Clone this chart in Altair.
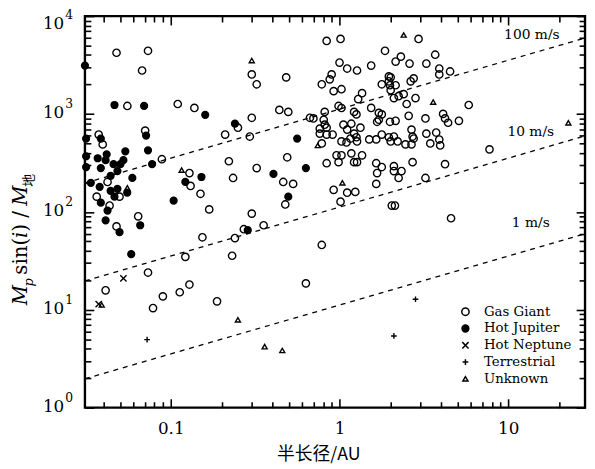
import altair as alt
import pandas as pd

# ---------------- data (semi-major axis in AU, M sin i in Earth masses) ----------------
gas_a = [0.0477, 0.0733, 0.0676, 0.0553, 0.110, 0.138, 0.0374, 0.0705, 0.0395, 0.0886,
         0.0422, 0.129, 0.131, 0.0364, 0.0497, 0.0434, 0.0641, 0.0477, 0.122, 0.0733,
         0.0411, 0.0785, 0.0898, 0.113, 0.129, 0.154, 0.240, 0.231, 0.785, 0.632,
         0.188, 0.440, 0.497, 0.302, 0.250, 0.210, 0.294, 0.302, 0.323, 0.483,
         0.221, 0.323, 0.490, 0.234, 0.464, 0.531, 0.150, 0.169, 0.302, 0.477,
         0.271, 0.355, 0.839, 1.014, 1.86, 1.0, 1.11, 1.27, 1.54, 0.898,
         0.875, 0.785, 0.923, 1.027, 1.29, 1.36, 1.54, 1.71, 1.67, 1.99,
         1.78, 2.01, 0.668, 0.70, 0.817, 0.806, 0.764, 0.839, 0.764, 0.839,
         0.910, 0.987, 1.055, 1.175, 1.11, 1.33, 1.22, 1.16, 1.26, 1.027,
         1.10, 1.27, 1.50, 1.65, 1.78, 1.96, 0.785, 0.96, 1.027, 1.175,
         1.36, 1.22, 1.27, 0.987, 0.839, 1.65, 1.78, 1.67, 0.923, 1.11,
         1.24, 1.014, 1.65, 2.04, 2.94, 2.31, 2.15, 2.60, 3.27, 3.69,
         3.90, 3.90, 4.52, 1.96, 1.96, 2.15, 2.01, 2.64, 2.75, 2.10,
         2.24, 2.40, 2.82, 2.50, 5.83, 2.57, 2.15, 3.23, 4.11, 4.22,
         4.40, 5.10, 2.67, 3.27, 3.74, 3.90, 3.45, 2.75, 2.67, 2.46,
         2.10, 2.21, 2.01, 7.74, 2.71, 4.22, 2.10, 2.10, 2.33, 2.24,
         3.23, 2.13, 4.58, 1.027, 1.22, 1.26, 1.78, 0.817, 1.71, 1.99,
         2.71, 3.95]
gas_m = [4220, 4420, 2780, 1207, 1264, 1152, 616, 676, 489, 345,
         202, 249, 184, 143, 143, 116, 90, 71, 34.7, 24,
         15.8, 10.4, 13.7, 15.1, 18.1, 55, 54, 35.6, 45.9, 18.6,
         12.2, 1100, 1050, 914, 724, 616, 588, 2535, 2010, 2365,
         329, 280, 361, 222, 202, 193, 153, 106, 96, 119,
         66.5, 73, 5570, 5840, 4420, 3350, 2910, 2780, 3120, 2535,
         2256, 2010, 1710, 1790, 1420, 1630, 1152, 1026, 832, 1964,
         2010, 2365, 914, 900, 1050, 873, 708, 724, 630, 616,
         616, 1207, 777, 795, 692, 724, 630, 561, 578, 524,
         512, 524, 550, 550, 616, 578, 500, 378, 378, 396,
         378, 322, 322, 322, 314, 314, 287, 249, 168, 157,
         160, 127, 193, 116, 5840, 3850, 3430, 3270, 3270, 4030,
         2910, 2535, 2717, 2420, 2155, 1964, 1750, 2155, 2310, 1453,
         1520, 1594, 1453, 1264, 1235, 957, 851, 900, 1002, 900,
         813, 851, 692, 630, 646, 548, 500, 561, 489, 489,
         588, 524, 524, 435, 322, 307, 293, 261, 261, 222,
         222, 116, 86, 1150, 1050, 990, 990, 777, 873, 832,
         588, 477]

hotjup_a = [0.031, 0.0464, 0.0695, 0.0385, 0.0714, 0.0315, 0.0538, 0.0733, 0.0417, 0.0411,
            0.0315, 0.0524, 0.0458, 0.0385, 0.0503, 0.0483, 0.0775, 0.0315, 0.044, 0.0592,
            0.0379, 0.044, 0.0483, 0.0464, 0.0385, 0.104, 0.122, 0.0411, 0.0659, 0.0497,
            0.0583, 0.160, 0.240, 0.561, 0.632, 0.406, 0.152, 0.497, 0.286, 0.0336,
            0.0369, 0.0552, 0.0422]
hotjup_m = [3120, 1235, 1207, 561, 602, 561, 415, 425, 387, 337,
            370, 337, 307, 280, 307, 261, 307, 287, 233, 222,
            180, 164, 172, 143, 124, 130, 202, 82, 73, 62,
            37, 980, 795, 561, 280, 244, 227, 143, 65, 198,
            353, 157, 103]

hotnep_a = [0.0524, 0.0374]
hotnep_m = [20.9, 11.4]

terr_a = [0.0724, 2.10, 2.82]
terr_m = [4.95, 5.4, 12.8]

unk_a = [0.116, 0.0553, 0.039, 0.250, 0.36, 0.458, 0.302, 0.743, 1.04, 2.40, 3.59, 22.7]
unk_m = [267, 176, 11.2, 7.9, 4.2, 3.84, 3510, 477, 198, 6410, 1324, 813]

categories = ["Gas Giant", "Hot Jupiter", "Hot Neptune", "Terrestrial", "Unknown"]

# radial-velocity lines (endpoints)
rv_labels = ["100 m/s", "10 m/s", "1 m/s"]
rv_a_ends = [0.031, 28.5]
rv_m_ends = [[197, 5974], [19.7, 597], [1.97, 59.7]]
rv_text_a = [13.8, 13.6, 13.6]
rv_text_m = [6350, 660, 76.4]

x_major = [0.1, 1, 10]
x_minor = [0.04, 0.05, 0.06, 0.07, 0.08, 0.09, 0.2, 0.3, 0.4, 0.5, 0.6, 0.7, 0.8, 0.9,
           2, 3, 4, 5, 6, 7, 8, 9, 20]
y_major = [1, 10, 100, 1000]
y_exps = ["0", "1", "2", "3"]
y_top = [10000]
y_top_exp = ["4"]
y_minor = [m * d for d in [1, 10, 100, 1000] for m in range(2, 10)]

# ---------------- build tables ----------------
rows = []
for cat, aa, mm in [("Gas Giant", gas_a, gas_m), ("Hot Jupiter", hotjup_a, hotjup_m),
                    ("Hot Neptune", hotnep_a, hotnep_m), ("Terrestrial", terr_a, terr_m),
                    ("Unknown", unk_a, unk_m)]:
    rows += [{"a": x, "m": y, "type": cat} for x, y in zip(aa, mm)]
pts = pd.DataFrame(rows)

line_rows = []
for lab, ends in zip(rv_labels, rv_m_ends):
    for x, y in zip(rv_a_ends, ends):
        line_rows.append({"a": x, "m": y, "k": lab})
lines_df = pd.DataFrame(line_rows)
lab_df = pd.DataFrame({"a": rv_text_a, "m": rv_text_m, "t": rv_labels})

W, H = 507, 397
SERIF = "DejaVu Serif"
xscale = alt.Scale(type="log", domain=[0.031, 28.5], nice=False)
yscale = alt.Scale(type="log", domain=[1, 10000], nice=False)
xaxis = alt.Axis(orient="bottom", values=x_major, format="~g", ticks=False, domain=False,
                 grid=False, labelFont=SERIF, labelFontSize=17, labelPadding=13,
                 labelColor="black", title=None)

shapes = ["circle", "circle", "M-1,-1L1,1M-1,1L1,-1", "M-1,0L1,0M0,-1L0,1", "triangle-up"]
fills = ["transparent", "black", "transparent", "transparent", "transparent"]
strokes = ["black"] * 5
sizes = [55, 26, 40, 52, 62]
leg = alt.Legend(title=None, orient="none", legendX=379, legendY=293, labelFont=SERIF,
                 labelFontSize=13.5, labelColor="black", symbolStrokeWidth=1.5,
                 labelOffset=12, rowPadding=2, padding=0)

points = alt.Chart(pts).mark_point(filled=True, strokeWidth=1.4, opacity=1).encode(
    x=alt.X("a:Q", scale=xscale, axis=xaxis),
    y=alt.Y("m:Q", scale=yscale, axis=None),
    shape=alt.Shape("type:N", scale=alt.Scale(domain=categories, range=shapes), legend=leg),
    fill=alt.Fill("type:N", scale=alt.Scale(domain=categories, range=fills), legend=leg),
    stroke=alt.Stroke("type:N", scale=alt.Scale(domain=categories, range=strokes), legend=leg),
    size=alt.Size("type:N", scale=alt.Scale(domain=categories, range=sizes), legend=leg),
)

rv_lines = alt.Chart(lines_df).mark_line(color="black", strokeWidth=1.3, strokeDash=[5, 5]).encode(
    x=alt.X("a:Q", scale=xscale, axis=None),
    y=alt.Y("m:Q", scale=yscale, axis=None),
    detail="k:N",
)
rv_text = alt.Chart(lab_df).mark_text(font=SERIF, fontSize=14, color="black", align="center",
                                      baseline="middle").encode(
    x=alt.X("a:Q", scale=xscale, axis=None),
    y=alt.Y("m:Q", scale=yscale, axis=None),
    text="t:N",
)


# inward ticks: axes pulled into the plot by a negative offset
def tick_axis(orient, vals, L):
    return alt.Axis(orient=orient, values=vals, tickSize=L, tickWidth=1.6, tickColor="black",
                    labels=False, domain=False, grid=False, offset=-L, title=None,
                    tickOpacity=1)


def xtick_layer(vals, L, orient):
    d = pd.DataFrame({"v": vals})
    return alt.Chart(d).mark_point(opacity=0).encode(
        x=alt.X("v:Q", scale=xscale, axis=tick_axis(orient, vals, L)),
        y=alt.value(0))


def ytick_layer(vals, L, orient):
    d = pd.DataFrame({"v": vals})
    return alt.Chart(d).mark_point(opacity=0).encode(
        y=alt.Y("v:Q", scale=yscale, axis=tick_axis(orient, vals, L)),
        x=alt.value(0))


all_y_major = y_major + y_top
tick_layers = [xtick_layer(x_major, 9, "bottom"), xtick_layer(x_minor, 6, "bottom"),
               xtick_layer(x_major, 9, "top"), xtick_layer(x_minor, 6, "top"),
               ytick_layer(all_y_major, 9, "left"), ytick_layer(y_minor, 6, "left"),
               ytick_layer(all_y_major, 9, "right"), ytick_layer(y_minor, 6, "right")]


def ylabels(vals, exps, shift):
    d = pd.DataFrame({"v": vals, "e": exps, "b": ["10"] * len(vals)})
    base = alt.Chart(d).mark_text(font=SERIF, fontSize=17, color="black", align="right",
                                  baseline="middle", dy=-1 + shift).encode(
        y=alt.Y("v:Q", scale=yscale, axis=None), x=alt.value(-21), text="b:N")
    exp = alt.Chart(d).mark_text(font=SERIF, fontSize=12.5, color="black", align="left",
                                 baseline="middle", dy=-10 + shift).encode(
        y=alt.Y("v:Q", scale=yscale, axis=None), x=alt.value(-20), text="e:N")
    return [base, exp]


ylab_layers = ylabels(y_major, y_exps, 0) + ylabels(y_top, y_top_exp, 9)

# axis titles
title_layers = []
xt = alt.Chart(pd.DataFrame({"t": ["半长径/AU"]})).mark_text(
    font="Noto Sans CJK SC", fontSize=18, color="black", align="center", baseline="middle").encode(
    text="t:N", x=alt.value(237), y=alt.value(445))
title_layers.append(xt)

ypieces = [("M", -59, 283, 20, "italic", SERIF), ("p", -53, 270, 13, "italic", SERIF),
           ("sin(", -59, 243.5, 20, "normal", SERIF), ("i", -59, 221.8, 20, "italic", SERIF),
           (")", -59, 214.7, 20, "normal", SERIF), ("/", -59, 201, 20, "normal", SERIF),
           ("M", -59, 182, 20, "italic", SERIF), ("地", -53, 166.5, 13, "normal", "Noto Sans CJK SC")]
for txt, px, py, fs, st, fnt in ypieces:
    title_layers.append(
        alt.Chart(pd.DataFrame({"t": [txt]})).mark_text(
            font=fnt, fontSize=fs, fontStyle=st, color="black", angle=270, align="center",
            baseline="alphabetic").encode(text="t:N", x=alt.value(px), y=alt.value(py)))

chart = alt.layer(points, rv_lines, *tick_layers, rv_text, *ylab_layers, *title_layers).resolve_axis(
    x="independent", y="independent"
).properties(
    width=W, height=H,
    autosize=alt.AutoSizeParams(type="none"),
    padding={"left": 78, "top": 5, "right": 2, "bottom": 58},
).configure(background="white").configure_view(stroke="black", strokeWidth=2.4)

chart.save("out.html", embed_options={"renderer": "svg", "actions": False})
